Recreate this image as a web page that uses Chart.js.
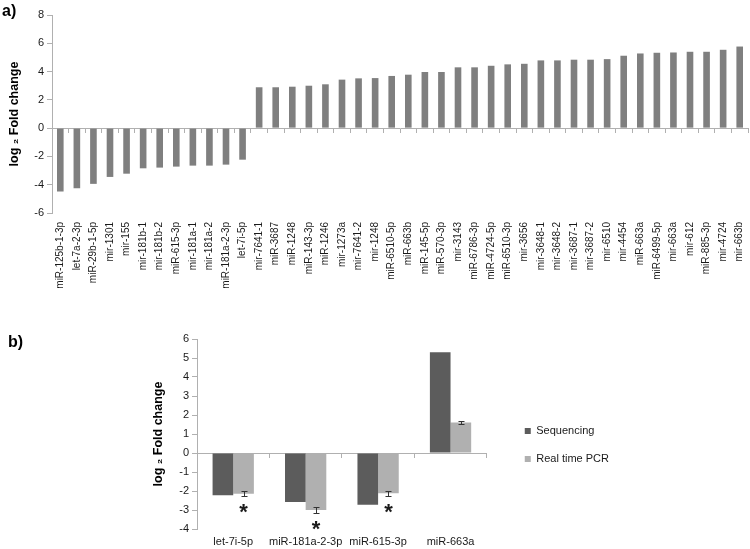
<!DOCTYPE html>
<html><head><meta charset="utf-8">
<script src="https://cdn.jsdelivr.net/npm/chart.js@4"></script>
<style>
html,body{margin:0;padding:0;background:#fff;}
#wrap{position:relative;width:750px;height:549px;overflow:hidden;font-family:"Liberation Sans",Arial,sans-serif;}
.panel{position:absolute;left:0;width:750px;}
#pa{top:0;height:320px;}
#pb{top:320px;height:229px;}
.tag{position:absolute;font-weight:bold;font-size:16px;color:#000;line-height:1;}
</style></head><body>
<div id="wrap">
<div class="panel" id="pa"><canvas id="ca"></canvas></div>
<div class="panel" id="pb"><canvas id="cb"></canvas></div>
<div class="tag" style="left:2px;top:3px">a)</div>
<div class="tag" style="left:8px;top:334px">b)</div>
</div>
<script>
// ---------- Panel a) data ----------
const categoriesA = ['miR-125b-1-3p','let-7a-2-3p','miR-29b-1-5p','mir-1301','mir-155','mir-181b-1','mir-181b-2','miR-615-3p','mir-181a-1','mir-181a-2','miR-181a-2-3p','let-7i-5p','mir-7641-1','miR-3687','miR-1248','miR-143-3p','miR-1246','mir-1273a','mir-7641-2','mir-1248','miR-6510-5p','miR-663b','miR-145-5p','miR-570-3p','mir-3143','miR-6786-3p','miR-4724-5p','miR-6510-3p','mir-3656','mir-3648-1','mir-3648-2','mir-3687-1','mir-3687-2','mir-6510','mir-4454','miR-663a','miR-6499-5p','mir-663a','mir-612','miR-885-3p','mir-4724','mir-663b'];
const foldChangeA = [-4.48,-4.25,-3.94,-3.45,-3.22,-2.84,-2.79,-2.72,-2.65,-2.65,-2.58,-2.23,2.89,2.89,2.93,3.0,3.1,3.43,3.52,3.54,3.69,3.78,3.97,3.97,4.30,4.30,4.41,4.51,4.55,4.79,4.79,4.84,4.84,4.88,5.12,5.28,5.33,5.35,5.40,5.40,5.54,5.77];
const yMinA = -6, yMaxA = 8, yStepA = 2;

// ---------- Panel b) data ----------
const categoriesB = ['let-7i-5p','miR-181a-2-3p','miR-615-3p','miR-663a'];
const seriesNamesB = ['Sequencing','Real time PCR'];
const sequencingB = [-2.23,-2.58,-2.72,5.3];
const pcrB = [-2.14,-3.0,-2.12,1.6];
const pcrErrB = [0.12,0.15,0.12,0.07];
const significantB = [true,true,true,false];
const yMinB = -4, yMaxB = 6, yStepB = 1;

const yTitle = 'log \u2082 Fold change';
const FONT = '"Liberation Sans", Arial, sans-serif';
const AXIS = '#b0b0b0';

Chart.defaults.font.family = FONT;
Chart.defaults.color = '#1a1a1a';
Chart.defaults.animation = false;

// ---------- Panel a) ----------
new Chart(document.getElementById('ca'), {
  type: 'bar',
  data: {
    labels: categoriesA,
    datasets: [{ data: foldChangeA, backgroundColor: '#7f7f7f', borderWidth: 0,
      barPercentage: 0.4, categoryPercentage: 1.0 }]
  },
  options: {
    responsive: true, maintainAspectRatio: false,
    layout: { padding: { left: 0, right: 2, top: 15, bottom: 0 } },
    plugins: { legend: { display: false }, tooltip: { enabled: false } },
    scales: {
      x: {
        type: 'category', position: 'bottom', offset: true,
        grid: { display: false, drawTicks: false, tickLength: 0 }, border: { display: false },
        ticks: { autoSkip: false, minRotation: 90, maxRotation: 90, padding: 9,
          font: { size: 10 }, color: '#1a1a1a' },
        afterFit(s) { s.height = 107; s.paddingLeft = 0; s.paddingRight = 0; }
      },
      x0: {
        type: 'category', position: { y: 0 }, offset: true,
        grid: { display: true, offset: true, drawOnChartArea: false, drawTicks: true, tickLength: 4, color: AXIS },
        border: { display: true, color: AXIS },
        ticks: { display: false }
      },
      y: {
        min: yMinA, max: yMaxA,
        ticks: { stepSize: yStepA, padding: 3, font: { size: 11 }, color: '#1a1a1a' },
        grid: { drawOnChartArea: false, drawTicks: true, tickLength: 5, color: AXIS },
        border: { display: true, color: AXIS },
        title: { display: true, text: yTitle, font: { size: 12.5, weight: 'bold' }, color: '#000', padding: { top: 7, bottom: 0 } },
        afterFit(s) { s.width = 52; }
      }
    }
  }
});

// ---------- Panel b) plugins ----------
const errorBarPlugin = {
  id: 'errorBars',
  afterDatasetsDraw(chart) {
    const meta = chart.getDatasetMeta(1);
    const y = chart.scales.y;
    const ctx = chart.ctx;
    ctx.save();
    ctx.strokeStyle = '#333';
    ctx.lineWidth = 1;
    meta.data.forEach((bar, i) => {
      const v = pcrB[i], e = pcrErrB[i];
      const x = Math.round(bar.x) + 0.5;
      const yTop = Math.round(y.getPixelForValue(v + e)) + 0.5;
      const yBot = Math.round(y.getPixelForValue(v - e)) + 0.5;
      ctx.beginPath();
      ctx.moveTo(x, yTop); ctx.lineTo(x, yBot);
      ctx.moveTo(x - 3, yTop); ctx.lineTo(x + 3, yTop);
      ctx.moveTo(x - 3, yBot); ctx.lineTo(x + 3, yBot);
      ctx.stroke();
      if (significantB[i]) {
        const size = 22;
        ctx.font = 'bold ' + size + 'px ' + FONT;
        ctx.fillStyle = '#1a1a1a';
        ctx.textAlign = 'center';
        ctx.textBaseline = 'alphabetic';
        ctx.fillText('*', bar.x, yBot + 22);
      }
    });
    ctx.restore();
  }
};

const legendOffsetPlugin = {
  id: 'legendOffset',
  afterLayout(chart, args, opts) {
    const lg = chart.legend;
    if (!lg) return;
    lg.left += opts.dx; lg.right += opts.dx;
    lg.top += opts.dy; lg.bottom += opts.dy;
  }
};

// ---------- Panel b) ----------
new Chart(document.getElementById('cb'), {
  type: 'bar',
  data: {
    labels: categoriesB,
    datasets: [
      { label: seriesNamesB[0], data: sequencingB, backgroundColor: '#5c5c5c', borderWidth: 0,
        barPercentage: 1.0, categoryPercentage: 0.57 },
      { label: seriesNamesB[1], data: pcrB, backgroundColor: '#b0b0b0', borderWidth: 0,
        barPercentage: 1.0, categoryPercentage: 0.57 }
    ]
  },
  plugins: [errorBarPlugin, legendOffsetPlugin],
  options: {
    responsive: true, maintainAspectRatio: false,
    layout: { padding: { left: 140, right: 152, top: 19, bottom: 0 } },
    plugins: {
      tooltip: { enabled: false },
      legend: {
        display: true, position: 'right',
        labels: { boxWidth: 6, boxHeight: 6, padding: 17, font: { size: 11 }, color: '#1a1a1a' }
      },
      legendOffset: { dx: 21, dy: 1 }
    },
    scales: {
      x: {
        type: 'category', position: 'bottom', offset: true,
        grid: { display: false, drawTicks: false, tickLength: 0 }, border: { display: false },
        ticks: { autoSkip: false, padding: 6, font: { size: 11 }, color: '#1a1a1a', maxRotation: 0 },
        afterFit(s) { s.height = 20; s.paddingLeft = 0; s.paddingRight = 0; }
      },
      x0: {
        type: 'category', position: { y: 0 }, offset: true,
        grid: { display: true, offset: true, drawOnChartArea: false, drawTicks: true, tickLength: 4, color: AXIS },
        border: { display: true, color: AXIS },
        ticks: { display: false }
      },
      y: {
        min: yMinB, max: yMaxB,
        ticks: { stepSize: yStepB, padding: 3, font: { size: 11 }, color: '#1a1a1a' },
        grid: { drawOnChartArea: false, drawTicks: true, tickLength: 5, color: AXIS },
        border: { display: true, color: AXIS },
        title: { display: true, text: yTitle, font: { size: 12.5, weight: 'bold' }, color: '#000', padding: { top: 11.5, bottom: 0 } },
        afterFit(s) { s.width = 57; }
      }
    }
  }
});
</script>
</body></html>
